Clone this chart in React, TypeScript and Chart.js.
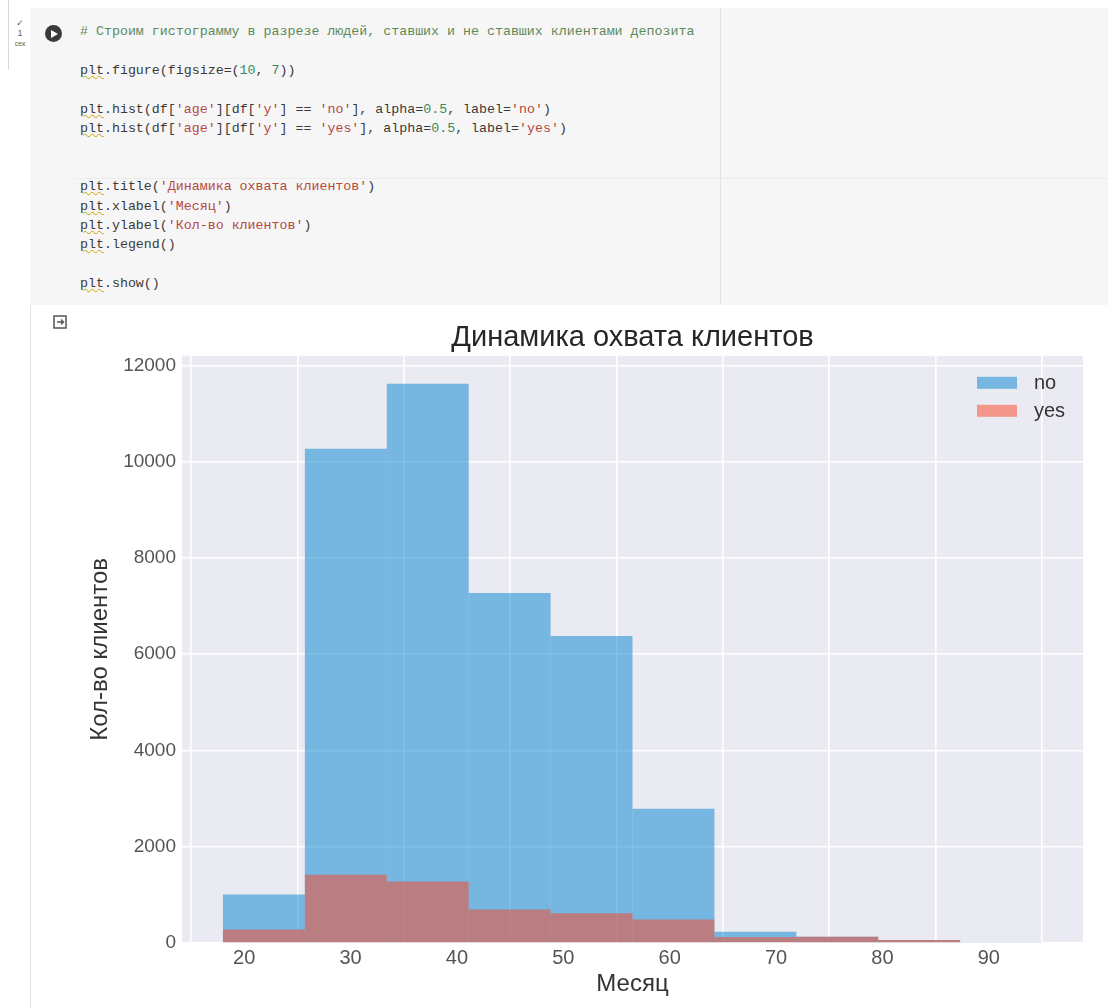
import React, { useEffect, useRef } from "react";
import { Chart, registerables } from "chart.js";

Chart.register(...registerables);

// ---- data ----
const binEdges = [18, 25.7, 33.4, 41.1, 48.8, 56.5, 64.2, 71.9, 79.6, 87.3, 95];
const noCounts = [1010, 10270, 11620, 7270, 6380, 2790, 235, 130, 60, 20];
const yesCounts = [280, 1420, 1280, 695, 620, 490, 125, 130, 60, 15];
const xTickValues = [20, 30, 40, 50, 60, 70, 80, 90];
const yTickValues = [0, 2000, 4000, 6000, 8000, 10000, 12000];
const seriesLabels = ["no", "yes"];

const X_MIN = 14.15;
const X_MAX = 98.85;
const Y_MAX = 12201;

const NO_COLOR = "rgba(0,132,208,0.5)";
const YES_COLOR = "rgba(254,67,35,0.5)";
const PLOT_BG = "#EAEAF2";
const FONT = "'Liberation Sans', Arial, sans-serif";

const codeLines = [
  "# Строим гистограмму в разрезе людей, ставших и не ставших клиентами депозита",
  "",
  "plt.figure(figsize=(10, 7))",
  "",
  "plt.hist(df['age'][df['y'] == 'no'], alpha=0.5, label='no')",
  "plt.hist(df['age'][df['y'] == 'yes'], alpha=0.5, label='yes')",
  "",
  "",
  "plt.title('Динамика охвата клиентов')",
  "plt.xlabel('Месяц')",
  "plt.ylabel('Кол-во клиентов')",
  "plt.legend()",
  "",
  "plt.show()",
];

function renderLine(line: string) {
  if (line.startsWith("#")) {
    return <span style={{ color: "#5b8a5b" }}>{line}</span>;
  }
  const parts: React.ReactNode[] = [];
  const re = /('[^']*')|(\b\d+(?:\.\d+)?\b)|(\bplt\b)/g;
  let last = 0;
  let m: RegExpExecArray | null;
  let i = 0;
  while ((m = re.exec(line))) {
    if (m.index > last) parts.push(<span key={i++}>{line.slice(last, m.index)}</span>);
    if (m[1]) parts.push(<span key={i++} style={{ color: "#b5483f" }}>{m[1]}</span>);
    else if (m[2]) parts.push(<span key={i++} style={{ color: "#3a8a5c" }}>{m[2]}</span>);
    else if (m[3])
      parts.push(
        <span key={i++} style={{ textDecoration: "underline wavy #c8a400", textDecorationThickness: "1px" }}>
          {m[3]}
        </span>
      );
    last = m.index + m[0].length;
  }
  if (last < line.length) parts.push(<span key={i++}>{line.slice(last)}</span>);
  return <>{parts}</>;
}

const bgPlugin = {
  id: "plotBg",
  beforeDraw(chart: any) {
    const { ctx, chartArea } = chart;
    ctx.save();
    ctx.fillStyle = PLOT_BG;
    ctx.fillRect(chartArea.left, chartArea.top, chartArea.right - chartArea.left, chartArea.bottom - chartArea.top);
    ctx.restore();
  },
};

const legendPlugin = {
  id: "innerLegend",
  afterDraw(chart: any) {
    const { ctx, chartArea } = chart;
    ctx.save();
    chart.data.datasets.forEach((ds: any, i: number) => {
      const px = chartArea.right - 106;
      const py = chartArea.top + 21 + i * 28;
      ctx.fillStyle = ds.backgroundColor;
      ctx.fillRect(px, py, 40, 12);
      ctx.fillStyle = "#333";
      ctx.font = `20px ${FONT}`;
      ctx.textBaseline = "middle";
      ctx.textAlign = "left";
      ctx.fillText(ds.label, px + 57, py + 7);
    });
    ctx.restore();
  },
};

function HistChart() {
  const ref = useRef<HTMLCanvasElement | null>(null);
  useEffect(() => {
    if (!ref.current) return;
    const mk = (counts: number[]) =>
      counts.map((c, i) => ({ x: (binEdges[i] + binEdges[i + 1]) / 2, y: c }));
    const common = {
      borderWidth: 0,
      grouped: false,
      barPercentage: 1,
      categoryPercentage: 1,
      inflateAmount: 0,
    };
    const chart = new Chart(ref.current, {
      type: "bar",
      data: {
        datasets: [
          { label: seriesLabels[0], data: mk(noCounts), backgroundColor: NO_COLOR, order: 1, ...common } as any,
          { label: seriesLabels[1], data: mk(yesCounts), backgroundColor: YES_COLOR, order: 0, ...common } as any,
        ],
      },
      options: {
        animation: false,
        responsive: false,
        devicePixelRatio: 1,
        layout: { padding: { top: 0, right: 25, bottom: 0, left: 0 } },
        plugins: {
          legend: { display: false },
          tooltip: { enabled: false },
          title: {
            display: true,
            text: "Динамика охвата клиентов",
            fullSize: false,
            color: "#262626",
            font: { family: FONT, size: 29, weight: "normal", lineHeight: 1.2 },
            padding: { top: 11, bottom: 0 },
          },
        },
        scales: {
          x: {
            type: "linear",
            min: X_MIN,
            max: X_MAX,
            offset: false,
            afterBuildTicks: (s: any) => {
              s.ticks = xTickValues.map((v) => ({ value: v }));
            },
            afterFit: (s: any) => {
              s.height = 65;
            },
            grid: { color: "#ffffff", lineWidth: 1.6, drawTicks: false },
            border: { display: false },
            ticks: {
              color: "#555",
              font: { family: FONT, size: 20, lineHeight: 1.2 },
              padding: 3,
              maxRotation: 0,
              callback: (v: any) => String(v),
            },
            title: {
              display: true,
              text: "Месяц",
              color: "#333",
              font: { family: FONT, size: 24, lineHeight: 1.2 },
              padding: { top: 0, bottom: 9 },
            },
          },
          y: {
            type: "linear",
            min: 0,
            max: Y_MAX,
            afterBuildTicks: (s: any) => {
              s.ticks = yTickValues.map((v) => ({ value: v }));
            },
            afterFit: (s: any) => {
              s.width = 112;
            },
            grid: { color: "#ffffff", lineWidth: 1.6, drawTicks: false },
            border: { display: false },
            ticks: {
              color: "#555",
              font: { family: FONT, size: 19, lineHeight: 1.2 },
              padding: 6,
              callback: (v: any) => String(v),
            },
            title: {
              display: true,
              text: "Кол-во клиентов",
              color: "#333",
              font: { family: FONT, size: 24, lineHeight: 1.2 },
              padding: { top: 16, bottom: 0 },
            },
          },
        },
      },
      plugins: [bgPlugin, legendPlugin],
    } as any);
    return () => chart.destroy();
  }, []);
  return (
    <canvas
      ref={ref}
      width={1038}
      height={698}
      style={{ position: "absolute", left: 70, top: 310, width: 1038, height: 698 }}
    />
  );
}

export default function App() {
  useEffect(() => {
    document.body.style.margin = "0";
    document.body.style.background = "#fff";
  }, []);
  const LH = 19.38;
  return (
    <div style={{ position: "relative", width: 1108, height: 1008, overflow: "hidden", background: "#fff" }}>
      <div style={{ position: "absolute", left: 8, top: 0, width: 1, height: 70, background: "#d8d8d8" }} />
      <div style={{ position: "absolute", left: 30, top: 305, width: 1, height: 703, background: "#e0e0e0" }} />
      <div style={{ position: "absolute", left: 30, top: 8, width: 1078, height: 297, background: "#f6f6f6" }} />
      <div style={{ position: "absolute", left: 720, top: 8, width: 1, height: 297, background: "#e2e2e2" }} />
      <div style={{ position: "absolute", left: 75, top: 178, width: 1033, height: 1, background: "#ebebeb" }} />
      <div style={{ position: "absolute", left: 12, top: 18, fontSize: 9, color: "#666", fontFamily: FONT, lineHeight: "10px", textAlign: "center", width: 16 }}>
        ✓<br />1<br />
        <span style={{ fontSize: 7 }}>сек</span>
      </div>
      <div style={{ position: "absolute", left: 45, top: 25, width: 17, height: 17, borderRadius: "50%", background: "#3a3a3a" }}>
        <div
          style={{
            position: "absolute",
            left: 6,
            top: 4.5,
            width: 0,
            height: 0,
            borderTop: "4px solid transparent",
            borderBottom: "4px solid transparent",
            borderLeft: "7px solid #fff",
          }}
        />
      </div>
      <div
        style={{
          position: "absolute",
          left: 80,
          top: 32 - LH / 2,
          fontFamily: "'Liberation Mono', 'DejaVu Sans Mono', monospace",
          fontSize: 13.3,
          lineHeight: `${LH}px`,
          color: "#3a3a3a",
          whiteSpace: "pre",
        }}
      >
        {codeLines.map((l, i) => (
          <div key={i} style={{ height: LH }}>
            {renderLine(l)}
          </div>
        ))}
      </div>
      <svg style={{ position: "absolute", left: 53, top: 315 }} width="15" height="15" viewBox="0 0 15 15">
        <rect x="1" y="1" width="12" height="12" fill="none" stroke="#555" strokeWidth="1.5" />
        <path d="M4 7 H10 M8 4.5 L10.5 7 L8 9.5" stroke="#555" strokeWidth="1.4" fill="none" />
      </svg>
      <HistChart />
    </div>
  );
}
